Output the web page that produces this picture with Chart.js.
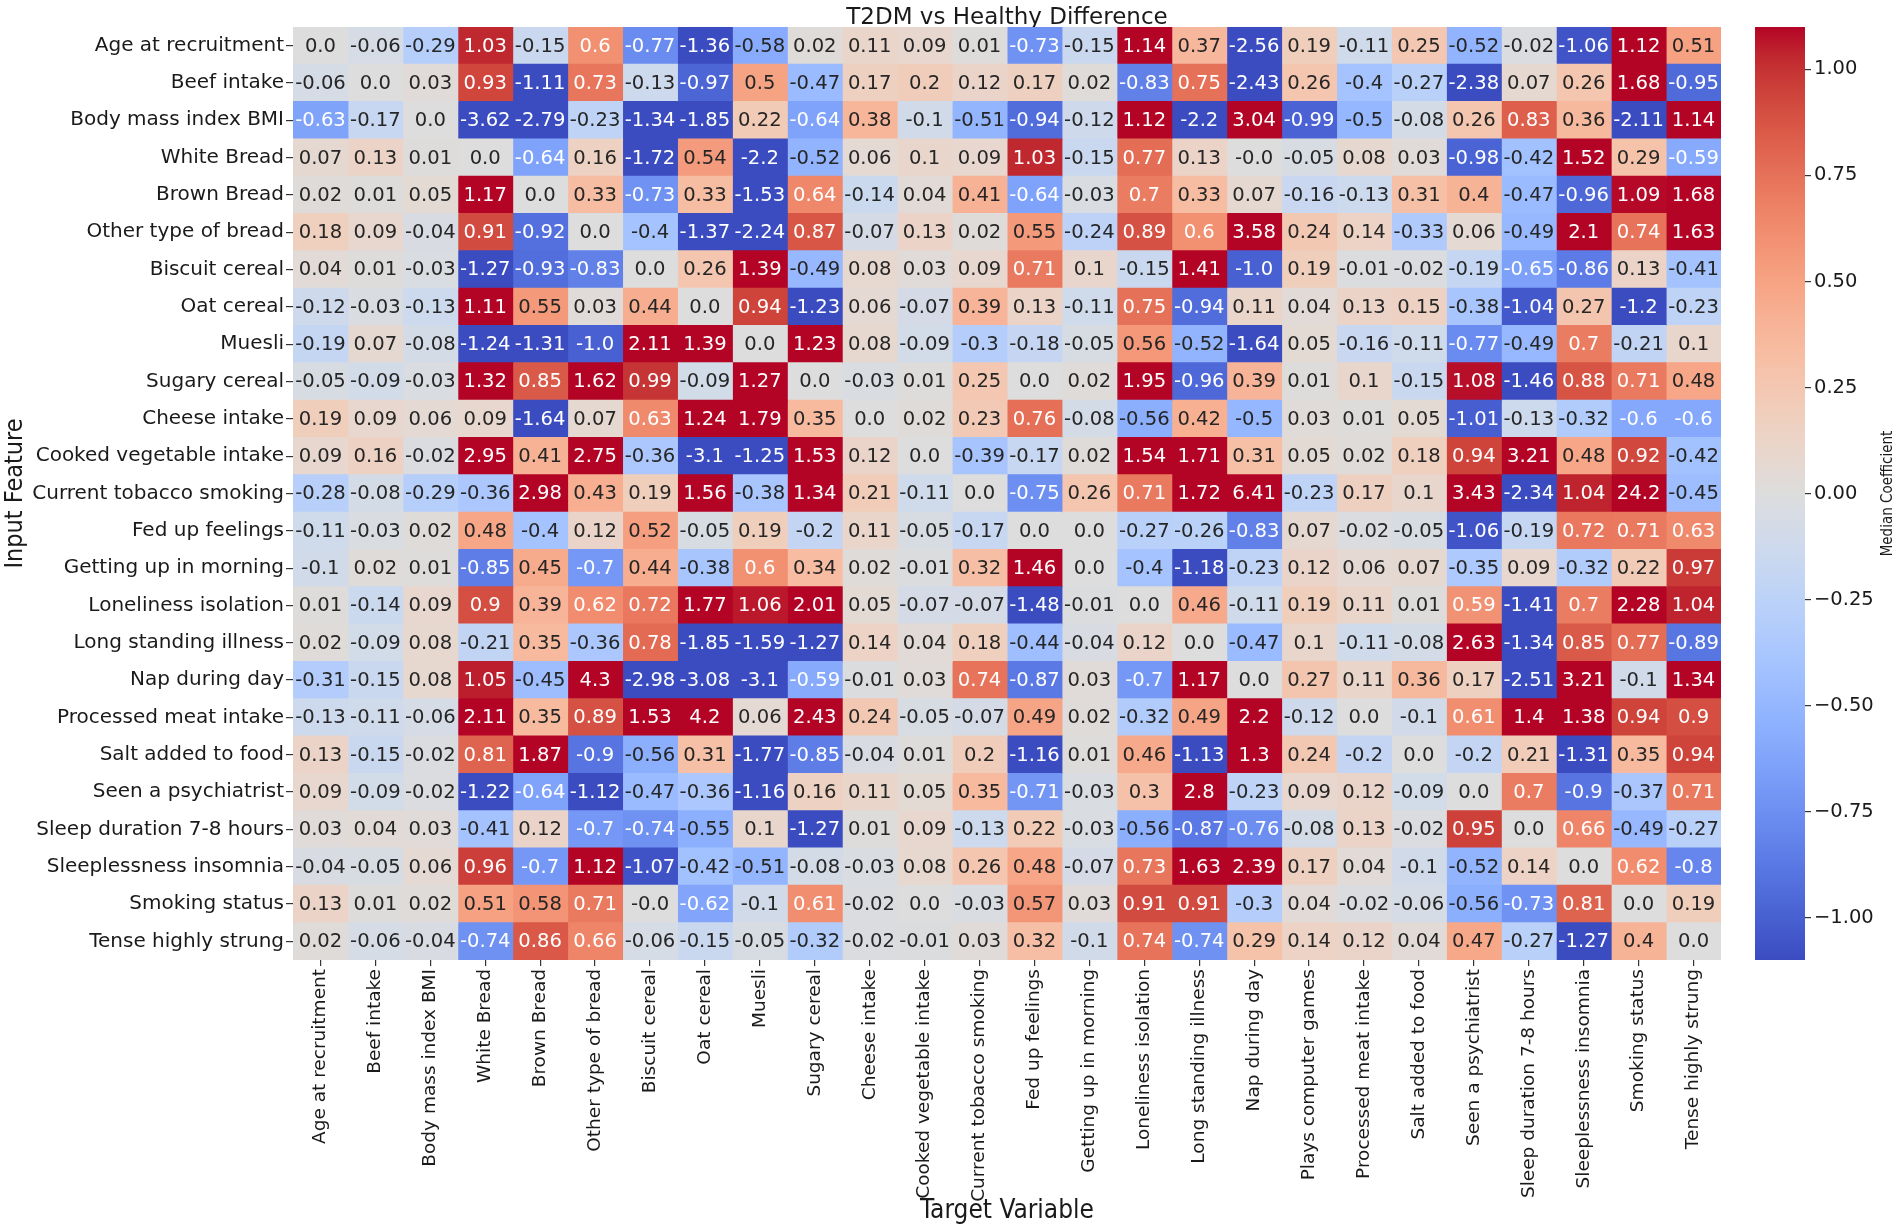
<!DOCTYPE html>
<html>
<head>
<meta charset="utf-8">
<script src="https://cdn.jsdelivr.net/npm/chart.js@4.4.1/dist/chart.umd.min.js"></script>
<style>
  html, body { margin: 0; padding: 0; background: #fff; }
  #wrap { position: relative; width: 1900px; height: 1227px; }
  #heat { position: absolute; left: 0; top: 0; }
  #cbar { position: absolute; left: 1730px; top: 0; }
</style>
</head>
<body>
<div id="wrap">
  <canvas id="heat" width="1900" height="1227"></canvas>
  <canvas id="cbar" width="170" height="1227"></canvas>
</div>
<script>
// rows = input features, columns = target variables
const rowLabels = [
  'Age at recruitment', 'Beef intake', 'Body mass index BMI', 'White Bread', 'Brown Bread',
  'Other type of bread', 'Biscuit cereal', 'Oat cereal', 'Muesli', 'Sugary cereal',
  'Cheese intake', 'Cooked vegetable intake', 'Current tobacco smoking', 'Fed up feelings',
  'Getting up in morning', 'Loneliness isolation', 'Long standing illness', 'Nap during day',
  'Processed meat intake', 'Salt added to food', 'Seen a psychiatrist', 'Sleep duration 7-8 hours',
  'Sleeplessness insomnia', 'Smoking status', 'Tense highly strung'
];

const colLabels = [
  'Age at recruitment', 'Beef intake', 'Body mass index BMI', 'White Bread', 'Brown Bread',
  'Other type of bread', 'Biscuit cereal', 'Oat cereal', 'Muesli', 'Sugary cereal',
  'Cheese intake', 'Cooked vegetable intake', 'Current tobacco smoking', 'Fed up feelings',
  'Getting up in morning', 'Loneliness isolation', 'Long standing illness', 'Nap during day',
  'Plays computer games', 'Processed meat intake', 'Salt added to food', 'Seen a psychiatrist',
  'Sleep duration 7-8 hours', 'Sleeplessness insomnia', 'Smoking status', 'Tense highly strung'
];

// median coefficients, one line per input feature
const values = [
  [0.0, -0.06, -0.29, 1.03, -0.15, 0.6, -0.77, -1.36, -0.58, 0.02, 0.11, 0.09, 0.01, -0.73, -0.15, 1.14, 0.37, -2.56, 0.19, -0.11, 0.25, -0.52, -0.02, -1.06, 1.12, 0.51],
  [-0.06, 0.0, 0.03, 0.93, -1.11, 0.73, -0.13, -0.97, 0.5, -0.47, 0.17, 0.2, 0.12, 0.17, 0.02, -0.83, 0.75, -2.43, 0.26, -0.4, -0.27, -2.38, 0.07, 0.26, 1.68, -0.95],
  [-0.63, -0.17, 0.0, -3.62, -2.79, -0.23, -1.34, -1.85, 0.22, -0.64, 0.38, -0.1, -0.51, -0.94, -0.12, 1.12, -2.2, 3.04, -0.99, -0.5, -0.08, 0.26, 0.83, 0.36, -2.11, 1.14],
  [0.07, 0.13, 0.01, 0.0, -0.64, 0.16, -1.72, 0.54, -2.2, -0.52, 0.06, 0.1, 0.09, 1.03, -0.15, 0.77, 0.13, -0.0, -0.05, 0.08, 0.03, -0.98, -0.42, 1.52, 0.29, -0.59],
  [0.02, 0.01, 0.05, 1.17, 0.0, 0.33, -0.73, 0.33, -1.53, 0.64, -0.14, 0.04, 0.41, -0.64, -0.03, 0.7, 0.33, 0.07, -0.16, -0.13, 0.31, 0.4, -0.47, -0.96, 1.09, 1.68],
  [0.18, 0.09, -0.04, 0.91, -0.92, 0.0, -0.4, -1.37, -2.24, 0.87, -0.07, 0.13, 0.02, 0.55, -0.24, 0.89, 0.6, 3.58, 0.24, 0.14, -0.33, 0.06, -0.49, 2.1, 0.74, 1.63],
  [0.04, 0.01, -0.03, -1.27, -0.93, -0.83, 0.0, 0.26, 1.39, -0.49, 0.08, 0.03, 0.09, 0.71, 0.1, -0.15, 1.41, -1.0, 0.19, -0.01, -0.02, -0.19, -0.65, -0.86, 0.13, -0.41],
  [-0.12, -0.03, -0.13, 1.11, 0.55, 0.03, 0.44, 0.0, 0.94, -1.23, 0.06, -0.07, 0.39, 0.13, -0.11, 0.75, -0.94, 0.11, 0.04, 0.13, 0.15, -0.38, -1.04, 0.27, -1.2, -0.23],
  [-0.19, 0.07, -0.08, -1.24, -1.31, -1.0, 2.11, 1.39, 0.0, 1.23, 0.08, -0.09, -0.3, -0.18, -0.05, 0.56, -0.52, -1.64, 0.05, -0.16, -0.11, -0.77, -0.49, 0.7, -0.21, 0.1],
  [-0.05, -0.09, -0.03, 1.32, 0.85, 1.62, 0.99, -0.09, 1.27, 0.0, -0.03, 0.01, 0.25, 0.0, 0.02, 1.95, -0.96, 0.39, 0.01, 0.1, -0.15, 1.08, -1.46, 0.88, 0.71, 0.48],
  [0.19, 0.09, 0.06, 0.09, -1.64, 0.07, 0.63, 1.24, 1.79, 0.35, 0.0, 0.02, 0.23, 0.76, -0.08, -0.56, 0.42, -0.5, 0.03, 0.01, 0.05, -1.01, -0.13, -0.32, -0.6, -0.6],
  [0.09, 0.16, -0.02, 2.95, 0.41, 2.75, -0.36, -3.1, -1.25, 1.53, 0.12, 0.0, -0.39, -0.17, 0.02, 1.54, 1.71, 0.31, 0.05, 0.02, 0.18, 0.94, 3.21, 0.48, 0.92, -0.42],
  [-0.28, -0.08, -0.29, -0.36, 2.98, 0.43, 0.19, 1.56, -0.38, 1.34, 0.21, -0.11, 0.0, -0.75, 0.26, 0.71, 1.72, 6.41, -0.23, 0.17, 0.1, 3.43, -2.34, 1.04, 24.2, -0.45],
  [-0.11, -0.03, 0.02, 0.48, -0.4, 0.12, 0.52, -0.05, 0.19, -0.2, 0.11, -0.05, -0.17, 0.0, 0.0, -0.27, -0.26, -0.83, 0.07, -0.02, -0.05, -1.06, -0.19, 0.72, 0.71, 0.63],
  [-0.1, 0.02, 0.01, -0.85, 0.45, -0.7, 0.44, -0.38, 0.6, 0.34, 0.02, -0.01, 0.32, 1.46, 0.0, -0.4, -1.18, -0.23, 0.12, 0.06, 0.07, -0.35, 0.09, -0.32, 0.22, 0.97],
  [0.01, -0.14, 0.09, 0.9, 0.39, 0.62, 0.72, 1.77, 1.06, 2.01, 0.05, -0.07, -0.07, -1.48, -0.01, 0.0, 0.46, -0.11, 0.19, 0.11, 0.01, 0.59, -1.41, 0.7, 2.28, 1.04],
  [0.02, -0.09, 0.08, -0.21, 0.35, -0.36, 0.78, -1.85, -1.59, -1.27, 0.14, 0.04, 0.18, -0.44, -0.04, 0.12, 0.0, -0.47, 0.1, -0.11, -0.08, 2.63, -1.34, 0.85, 0.77, -0.89],
  [-0.31, -0.15, 0.08, 1.05, -0.45, 4.3, -2.98, -3.08, -3.1, -0.59, -0.01, 0.03, 0.74, -0.87, 0.03, -0.7, 1.17, 0.0, 0.27, 0.11, 0.36, 0.17, -2.51, 3.21, -0.1, 1.34],
  [-0.13, -0.11, -0.06, 2.11, 0.35, 0.89, 1.53, 4.2, 0.06, 2.43, 0.24, -0.05, -0.07, 0.49, 0.02, -0.32, 0.49, 2.2, -0.12, 0.0, -0.1, 0.61, 1.4, 1.38, 0.94, 0.9],
  [0.13, -0.15, -0.02, 0.81, 1.87, -0.9, -0.56, 0.31, -1.77, -0.85, -0.04, 0.01, 0.2, -1.16, 0.01, 0.46, -1.13, 1.3, 0.24, -0.2, 0.0, -0.2, 0.21, -1.31, 0.35, 0.94],
  [0.09, -0.09, -0.02, -1.22, -0.64, -1.12, -0.47, -0.36, -1.16, 0.16, 0.11, 0.05, 0.35, -0.71, -0.03, 0.3, 2.8, -0.23, 0.09, 0.12, -0.09, 0.0, 0.7, -0.9, -0.37, 0.71],
  [0.03, 0.04, 0.03, -0.41, 0.12, -0.7, -0.74, -0.55, 0.1, -1.27, 0.01, 0.09, -0.13, 0.22, -0.03, -0.56, -0.87, -0.76, -0.08, 0.13, -0.02, 0.95, 0.0, 0.66, -0.49, -0.27],
  [-0.04, -0.05, 0.06, 0.96, -0.7, 1.12, -1.07, -0.42, -0.51, -0.08, -0.03, 0.08, 0.26, 0.48, -0.07, 0.73, 1.63, 2.39, 0.17, 0.04, -0.1, -0.52, 0.14, 0.0, 0.62, -0.8],
  [0.13, 0.01, 0.02, 0.51, 0.58, 0.71, -0.0, -0.62, -0.1, 0.61, -0.02, 0.0, -0.03, 0.57, 0.03, 0.91, 0.91, -0.3, 0.04, -0.02, -0.06, -0.56, -0.73, 0.81, 0.0, 0.19],
  [0.02, -0.06, -0.04, -0.74, 0.86, 0.66, -0.06, -0.15, -0.05, -0.32, -0.02, -0.01, 0.03, 0.32, -0.1, 0.74, -0.74, 0.29, 0.14, 0.12, 0.04, 0.47, -0.27, -1.27, 0.4, 0.0]
];

const colorbarTicks = [-1, -0.75, -0.5, -0.25, 0, 0.25, 0.5, 0.75, 1];
const vMin = -1.1;
const vMax = 1.1;

// matplotlib coolwarm, 33 samples
const coolwarm = [
  [0.2298, 0.2987, 0.7537], [0.2662, 0.3531, 0.8015], [0.3039, 0.4065, 0.8450], [0.3428, 0.4588, 0.8837],
  [0.3830, 0.5094, 0.9174], [0.4244, 0.5581, 0.9456], [0.4667, 0.6046, 0.9682], [0.5096, 0.6483, 0.9848],
  [0.5530, 0.6889, 0.9954], [0.5963, 0.7261, 0.9998], [0.6392, 0.7596, 0.9982], [0.6813, 0.7890, 0.9904],
  [0.7222, 0.8140, 0.9766], [0.7615, 0.8343, 0.9569], [0.7987, 0.8498, 0.9317], [0.8335, 0.8602, 0.9011],
  [0.8654, 0.8654, 0.8654], [0.8978, 0.8489, 0.8209], [0.9241, 0.8274, 0.7745], [0.9445, 0.8009, 0.7267],
  [0.9589, 0.7698, 0.6780], [0.9673, 0.7341, 0.6288], [0.9700, 0.6943, 0.5794], [0.9668, 0.6504, 0.5303],
  [0.9580, 0.6028, 0.4818], [0.9437, 0.5518, 0.4342], [0.9239, 0.4973, 0.3880], [0.8990, 0.4396, 0.3432],
  [0.8692, 0.3783, 0.3003], [0.8346, 0.3129, 0.2593], [0.7956, 0.2413, 0.2205], [0.7525, 0.1572, 0.1841],
  [0.7057, 0.0156, 0.1502]
];

function cmap(t) {
  t = Math.min(1, Math.max(0, t));
  const f = t * (coolwarm.length - 1);
  const i = Math.min(coolwarm.length - 2, Math.floor(f));
  const k = f - i;
  return coolwarm[i].map((a, j) => a + (coolwarm[i + 1][j] - a) * k);
}

function rgb(c) {
  return 'rgb(' + c.map(x => Math.round(x * 255)).join(',') + ')';
}

function cellColor(v) {
  return cmap((v - vMin) / (vMax - vMin));
}

// seaborn picks dark or white annotation text from the cell luminance
function textColor(v) {
  const lin = cellColor(v).map(c => c <= 0.03928 ? c / 12.92 : Math.pow((c + 0.055) / 1.055, 2.4));
  const lum = 0.2126 * lin[0] + 0.7152 * lin[1] + 0.0722 * lin[2];
  return lum > 0.408 ? '#262626' : '#ffffff';
}

function fmt(v) {
  if (Object.is(v, -0)) return '-0.0';
  return Number.isInteger(v) ? v.toFixed(1) : String(v);
}

const FONT = "'DejaVu Sans', sans-serif";
const COND = "'DejaVu Sans Condensed', 'DejaVu Sans', sans-serif";
const INK = '#1a1a1a';

const cellLabels = {
  id: 'cellLabels',
  afterDatasetsDraw(chart) {
    const ctx = chart.ctx;
    ctx.save();
    ctx.font = '19px ' + FONT;
    ctx.textAlign = 'center';
    ctx.textBaseline = 'middle';
    chart.data.datasets.forEach((ds, c) => {
      chart.getDatasetMeta(c).data.forEach((bar, r) => {
        const v = values[r][c];
        const p = bar.getCenterPoint();
        ctx.save();
        ctx.translate(p.x, p.y + 1);
        ctx.scale(1.03, 1);
        ctx.fillStyle = textColor(v);
        ctx.fillText(fmt(v), 0, 0);
        ctx.restore();
      });
    });
    ctx.restore();
  }
};

// one floating bar per cell: column c spans [c, c+1] on the x scale
const datasets = colLabels.map((name, c) => ({
  label: name,
  data: rowLabels.map(() => [c, c + 1]),
  backgroundColor: values.map(row => rgb(cellColor(row[c]))),
  borderWidth: 0,
  inflateAmount: 0.5,
  barPercentage: 1,
  categoryPercentage: 1,
  grouped: false
}));

new Chart(document.getElementById('heat'), {
  type: 'bar',
  data: { labels: rowLabels, datasets: datasets },
  options: {
    indexAxis: 'y',
    responsive: false,
    animation: false,
    devicePixelRatio: 1,
    layout: { padding: { left: 0, right: 179, top: 0, bottom: 0 } },
    plugins: {
      legend: { display: false },
      tooltip: { enabled: false },
      title: {
        display: true,
        fullSize: false,
        text: 'T2DM vs Healthy Difference',
        color: INK,
        font: { family: FONT, size: 23, weight: 'normal', lineHeight: 0.78 },
        padding: { top: 9, bottom: 0 }
      }
    },
    scales: {
      y: {
        type: 'category',
        position: 'left',
        offset: true,
        grid: { drawOnChartArea: false, offset: false, tickLength: 7, color: '#333', lineWidth: 1.2 },
        border: { display: false },
        ticks: { autoSkip: false, padding: 2, color: INK, font: { family: FONT, size: 20 } },
        title: {
          display: true,
          text: 'Input Feature',
          color: INK,
          font: { family: COND, size: 25 },
          padding: { top: 0, bottom: 0 }
        },
        afterFit(scale) { scale.width = 293; }
      },
      x: {
        type: 'linear',
        position: 'bottom',
        min: 0,
        max: colLabels.length,
        afterBuildTicks(axis) { axis.ticks = colLabels.map((_, i) => ({ value: i + 0.5 })); },
        grid: { drawOnChartArea: false, tickLength: 6, color: '#333', lineWidth: 1.2 },
        border: { display: false },
        ticks: {
          autoSkip: false,
          minRotation: 90,
          maxRotation: 90,
          padding: 3,
          color: INK,
          font: { family: FONT, size: 18.5 },
          callback: (v, i) => colLabels[i]
        },
        title: {
          display: true,
          text: 'Target Variable',
          color: INK,
          font: { family: COND, size: 26 },
          padding: { top: 2, bottom: 0 }
        },
        afterFit(scale) { scale.height = 267; }
      }
    }
  },
  plugins: [cellLabels]
});

// colorbar
const cbarLabel = {
  id: 'cbarLabel',
  afterDraw(chart) {
    const ctx = chart.ctx;
    const a = chart.chartArea;
    ctx.save();
    ctx.translate(158, (a.top + a.bottom) / 2);
    ctx.rotate(-Math.PI / 2);
    ctx.font = '15px ' + COND;
    ctx.fillStyle = INK;
    ctx.textAlign = 'center';
    ctx.textBaseline = 'middle';
    ctx.fillText('Median Coefficient', 0, 0);
    ctx.restore();
  }
};

new Chart(document.getElementById('cbar'), {
  type: 'bar',
  data: {
    labels: [''],
    datasets: [{
      data: [[vMin, vMax]],
      backgroundColor(ctx) {
        const chart = ctx.chart;
        if (!chart.chartArea) return null;
        const y = chart.scales.y;
        const g = chart.ctx.createLinearGradient(0, y.getPixelForValue(vMin), 0, y.getPixelForValue(vMax));
        coolwarm.forEach((c, i) => g.addColorStop(i / (coolwarm.length - 1), rgb(c)));
        return g;
      },
      borderWidth: 0,
      barPercentage: 1,
      categoryPercentage: 1
    }]
  },
  options: {
    responsive: false,
    animation: false,
    devicePixelRatio: 1,
    layout: { padding: { left: 25, right: 0, top: 27, bottom: 267 } },
    plugins: { legend: { display: false }, tooltip: { enabled: false } },
    scales: {
      x: { display: false },
      y: {
        position: 'right',
        min: vMin,
        max: vMax,
        afterBuildTicks(axis) { axis.ticks = colorbarTicks.map(v => ({ value: v })); },
        grid: { drawOnChartArea: false, tickLength: 6, color: '#333', lineWidth: 1.2 },
        border: { display: false },
        ticks: {
          padding: 3,
          color: INK,
          font: { family: FONT, size: 19.5 },
          callback: v => (v < 0 ? '\u2212' : '') + Math.abs(v).toFixed(2)
        },
        afterFit(scale) { scale.width = 95; }
      }
    }
  },
  plugins: [cbarLabel]
});
</script>
</body>
</html>
